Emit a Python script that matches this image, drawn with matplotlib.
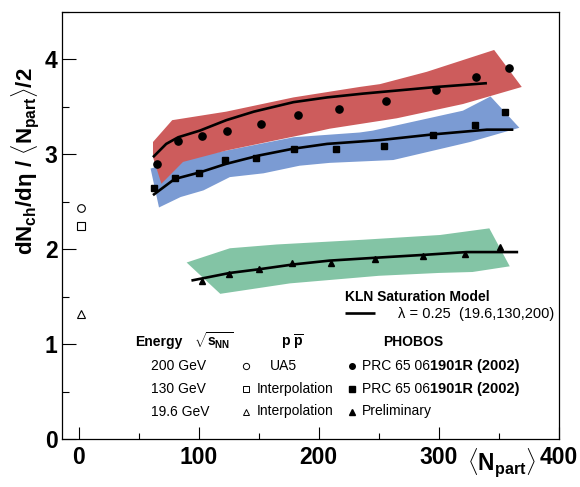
import matplotlib
matplotlib.use("Agg")
import matplotlib.pyplot as plt
from matplotlib.ticker import MultipleLocator

plt.rcParams['font.family'] = ['Liberation Sans', 'DejaVu Sans']
plt.rcParams['mathtext.fontset'] = 'custom'
plt.rcParams['mathtext.rm'] = 'Liberation Sans'
plt.rcParams['mathtext.bf'] = 'Liberation Sans:bold'
plt.rcParams['mathtext.it'] = 'Liberation Sans:italic'

# ---------------- data ----------------
# PHOBOS data
npart_200 = [65, 83, 103, 124, 152, 183, 217, 256, 298, 331, 358]
dn_200 = [2.90, 3.14, 3.19, 3.25, 3.32, 3.41, 3.48, 3.56, 3.68, 3.81, 3.91]
npart_130 = [63, 80, 100, 122, 148, 179, 214, 254, 295, 330, 355]
dn_130 = [2.65, 2.75, 2.80, 2.94, 2.96, 3.06, 3.06, 3.09, 3.20, 3.31, 3.45]
npart_19 = [103, 125, 150, 178, 210, 247, 287, 322, 351]
dn_19 = [1.67, 1.74, 1.79, 1.86, 1.86, 1.90, 1.93, 1.95, 2.02]

# p pbar reference points
pp_npart = 2
pp_200 = 2.43
pp_130 = 2.24
pp_19 = 1.32

# KLN saturation model curves
kln_200_n = [62, 73, 83, 101, 123, 146, 179, 207, 237, 298, 340]
kln_200_y = [2.97, 3.11, 3.18, 3.25, 3.36, 3.45, 3.55, 3.60, 3.64, 3.71, 3.75]
kln_130_n = [62, 80, 101, 123, 151, 179, 207, 251, 295, 340, 362]
kln_130_y = [2.57, 2.74, 2.81, 2.90, 2.99, 3.06, 3.11, 3.15, 3.21, 3.26, 3.26]
kln_19_n = [94, 126, 151, 179, 209, 247, 287, 323, 366]
kln_19_y = [1.67, 1.75, 1.79, 1.84, 1.88, 1.91, 1.94, 1.97, 1.97]

# systematic bands (upper edge left->right, lower edge left->right)
red_up_n = [62, 78, 123, 179, 234, 251, 290, 346]
red_up_y = [3.13, 3.36, 3.45, 3.60, 3.71, 3.74, 3.87, 4.10]
red_lo_n = [62, 69, 87, 123, 184, 209, 265, 320, 369]
red_lo_y = [2.97, 2.69, 2.92, 3.04, 3.20, 3.27, 3.38, 3.53, 3.71]

blue_up_n = [60, 87, 123, 179, 234, 245, 320, 343]
blue_up_y = [2.85, 2.95, 3.04, 3.18, 3.23, 3.25, 3.46, 3.61]
blue_lo_n = [60, 67, 85, 104, 126, 154, 184, 209, 262, 326, 367]
blue_lo_y = [2.85, 2.44, 2.55, 2.62, 2.76, 2.80, 2.88, 2.91, 2.94, 3.13, 3.28]

green_up_n = [90, 126, 165, 237, 301, 342]
green_up_y = [1.86, 2.01, 2.05, 2.10, 2.15, 2.22]
green_lo_n = [90, 118, 176, 250, 300, 328, 359]
green_lo_y = [1.86, 1.53, 1.64, 1.72, 1.75, 1.76, 1.82]

x_ticks = [0, 100, 200, 300, 400]
y_ticks = [0, 1, 2, 3, 4]

RED = '#CD5C5C'
BLUE = '#7B9BD3'
GREEN = '#83C4A5'

# ---------------- figure ----------------
W, H = 580, 487
fig = plt.figure(figsize=(W / 100, H / 100), dpi=100)
L, R, T, B = 61.7, 559.0, 12.0, 439.0
ax = fig.add_axes([L / W, 1 - B / H, (R - L) / W, (B - T) / H])


def band(up_n, up_y, lo_n, lo_y, color):
    xs = list(up_n) + list(lo_n[::-1])
    ys = list(up_y) + list(lo_y[::-1])
    ax.fill(xs, ys, color=color, lw=0, zorder=1)


band(blue_up_n, blue_up_y, blue_lo_n, blue_lo_y, BLUE)
band(red_up_n, red_up_y, red_lo_n, red_lo_y, RED)
band(green_up_n, green_up_y, green_lo_n, green_lo_y, GREEN)

for n, y in [(kln_200_n, kln_200_y), (kln_130_n, kln_130_y), (kln_19_n, kln_19_y)]:
    ax.plot(n, y, color='black', lw=1.9, zorder=3, solid_capstyle='butt')

ax.plot(npart_200, dn_200, 'o', color='black', ms=5.2, zorder=4)
ax.plot(npart_130, dn_130, 's', color='black', ms=4.8, zorder=4)
ax.plot(npart_19, dn_19, '^', color='black', ms=5.0, zorder=4)

ax.plot([pp_npart], [pp_200], 'o', mfc='white', mec='black', mew=0.8, ms=5.5, zorder=4)
ax.plot([pp_npart], [pp_130], 's', mfc='white', mec='black', mew=0.8, ms=5.3, zorder=4)
ax.plot([pp_npart], [pp_19], '^', mfc='white', mec='black', mew=0.8, ms=5.3, zorder=4)

ax.set_xlim(-14, 400)
ax.set_ylim(0, 4.5)
ax.xaxis.set_major_locator(plt.FixedLocator(x_ticks))
ax.xaxis.set_minor_locator(MultipleLocator(50))
ax.yaxis.set_major_locator(plt.FixedLocator(y_ticks))
ax.yaxis.set_minor_locator(MultipleLocator(0.5))
ax.tick_params(axis='both', which='both', direction='in', top=False, right=False, width=0.8)
ax.tick_params(axis='x', which='major', length=9, pad=5, labelsize=16.5)
ax.tick_params(axis='x', which='minor', length=4.5)
ax.tick_params(axis='y', which='major', length=10, pad=3, labelsize=16.5)
ax.tick_params(axis='y', which='minor', length=5)
for lab in ax.get_xticklabels() + ax.get_yticklabels():
    lab.set_fontweight('bold')
for s in ax.spines.values():
    s.set_linewidth(0.9)

# axis labels
fig.text(26 / W, 1 - 161 / H,
         r'dN$_{\mathbf{ch}}$/dη / $\langle$N$_{\mathbf{part}}\rangle$/2',
         rotation=90, ha='center', va='center', fontsize=16, fontweight='bold')
fig.text(502 / W, 1 - 463 / H, r'$\langle$N$_{\mathbf{part}}\rangle$', ha='center', va='center',
         fontsize=16.5, fontweight='bold')


def fx(px):
    return (px - L) / (R - L)


def fy(py):
    return (B - py) / (B - T)


tk = dict(transform=ax.transAxes, va='center', fontsize=10)

# KLN legend
ax.text(fx(345), fy(297), 'KLN Saturation Model', ha='left', fontweight='bold', **tk)
ax.plot([fx(345), fx(375)], [fy(313), fy(313)], color='black', lw=1.9,
        transform=ax.transAxes, solid_capstyle='butt')
ax.text(fx(398), fy(314), 'λ = 0.25  (19.6,130,200)', ha='left',
        transform=ax.transAxes, va='center', fontsize=10.5)

# table header
ax.text(fx(135), fy(342), 'Energy', ha='left', fontweight='bold', **tk)
ax.text(fx(194), fy(341), r'$\sqrt{\mathbf{s}_{\mathbf{NN}}}$', ha='left', fontweight='bold', **tk)
ax.text(fx(292), fy(342), r'p $\overline{\mathbf{p}}$', ha='center', fontweight='bold', **tk)
ax.text(fx(413), fy(342), 'PHOBOS', ha='center', fontweight='bold', **tk)

rows_y = [366, 389, 411.5]
energies = ['200 GeV', '130 GeV', '19.6 GeV']
pp_src = ['UA5', 'Interpolation', 'Interpolation']
pp_src_x = [270, 257, 257]
markers = ['o', 's', '^']
for i, yy in enumerate(rows_y):
    ax.text(fx(151), fy(yy), energies[i], ha='left', **tk)
    ax.plot([fx(246)], [fy(yy)], markers[i], mfc='white', mec='black', mew=0.7,
            ms=4.5, transform=ax.transAxes, clip_on=False)
    ax.text(fx(pp_src_x[i]), fy(yy), pp_src[i], ha='left', **tk)
    ax.plot([fx(352)], [fy(yy)], markers[i], color='black', ms=4.0,
            transform=ax.transAxes, clip_on=False)

for yy in rows_y[:2]:
    t1 = ax.text(fx(362), fy(yy), 'PRC 65 06', ha='left', **tk)
    ax.annotate('1901R (2002)', xy=(1, 0.5), xycoords=t1, ha='left', va='center',
                fontsize=10.5, fontweight='bold')
ax.text(fx(362), fy(rows_y[2]), 'Preliminary', ha='left', **tk)

fig.savefig('out.png', dpi=100)
